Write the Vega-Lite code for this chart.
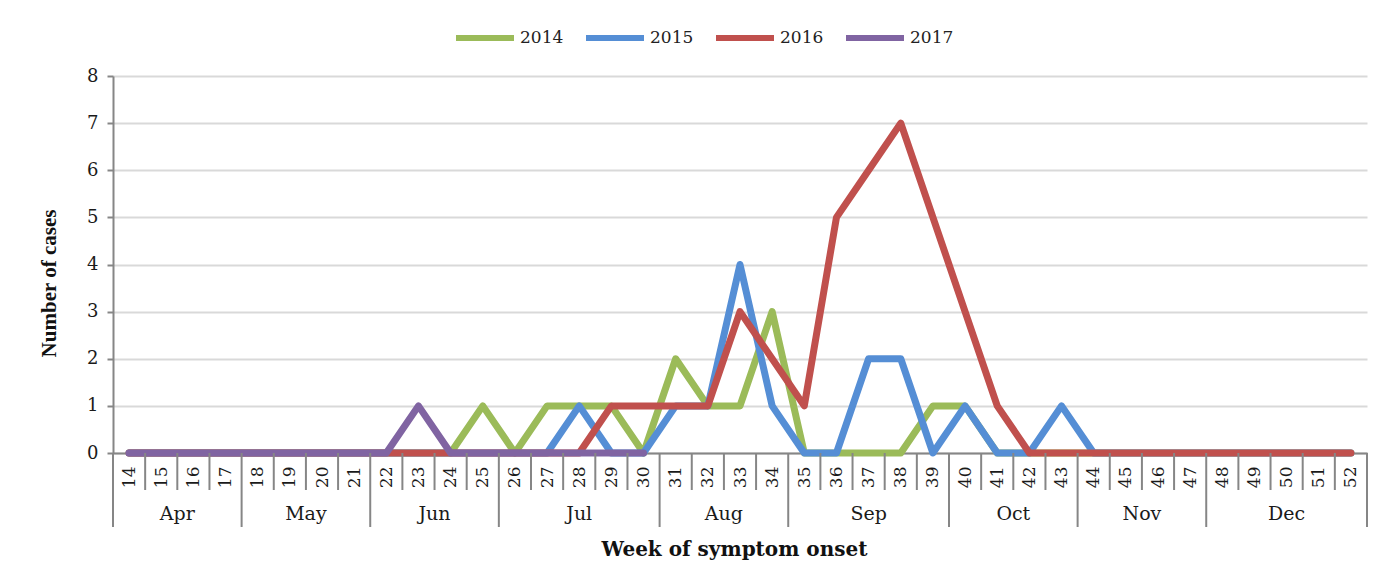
{
  "$schema": "https://vega.github.io/schema/vega-lite/v6.json",
  "width": 1254,
  "height": 377,
  "autosize": {"type": "none"},
  "padding": {"left": 113, "top": 76, "right": 31, "bottom": 122},
  "background": "white",
  "config": {
    "view": {"stroke": null},
    "font": "DejaVu Serif",
    "axisX": {
      "ticks": false,
      "grid": false,
      "labelAngle": -90,
      "labelFont": "DejaVu Serif",
      "labelFontSize": 17,
      "labelPadding": 13,
      "labelColor": "#1a1a1a",
      "labelFlush": false,
      "labelOverlap": false,
      "labelBound": false,
      "tickCount": 39,
      "domainColor": "#868686",
      "domainWidth": 2,
      "titleFont": "DejaVu Serif",
      "titleFontSize": 20,
      "titleFontWeight": "bold",
      "titleColor": "#111",
      "titlePadding": 52,
      "titleX": 621
    },
    "axisY": {
      "tickSize": 6,
      "tickColor": "#868686",
      "tickWidth": 2,
      "domainColor": "#868686",
      "domainWidth": 2,
      "gridColor": "#D9D9D9",
      "gridWidth": 2,
      "labelFont": "DejaVu Serif",
      "labelFontSize": 18,
      "labelPadding": 9,
      "labelColor": "#1a1a1a",
      "titleFont": "Liberation Serif",
      "titleFontSize": 21,
      "titleFontWeight": "bold",
      "titleColor": "#111",
      "titlePadding": 27,
      "titleY": 207
    }
  },
  "datasets": {
    "weekly": [
      {"week": 14, "2014": 0, "2015": 0, "2016": 0, "2017": 0},
      {"week": 15, "2014": 0, "2015": 0, "2016": 0, "2017": 0},
      {"week": 16, "2014": 0, "2015": 0, "2016": 0, "2017": 0},
      {"week": 17, "2014": 0, "2015": 0, "2016": 0, "2017": 0},
      {"week": 18, "2014": 0, "2015": 0, "2016": 0, "2017": 0},
      {"week": 19, "2014": 0, "2015": 0, "2016": 0, "2017": 0},
      {"week": 20, "2014": 0, "2015": 0, "2016": 0, "2017": 0},
      {"week": 21, "2014": 0, "2015": 0, "2016": 0, "2017": 0},
      {"week": 22, "2014": 0, "2015": 0, "2016": 0, "2017": 0},
      {"week": 23, "2014": 0, "2015": 0, "2016": 0, "2017": 1},
      {"week": 24, "2014": 0, "2015": 0, "2016": 0, "2017": 0},
      {"week": 25, "2014": 1, "2015": 0, "2016": 0, "2017": 0},
      {"week": 26, "2014": 0, "2015": 0, "2016": 0, "2017": 0},
      {"week": 27, "2014": 1, "2015": 0, "2016": 0, "2017": 0},
      {"week": 28, "2014": 1, "2015": 1, "2016": 0, "2017": 0},
      {"week": 29, "2014": 1, "2015": 0, "2016": 1, "2017": 0},
      {"week": 30, "2014": 0, "2015": 0, "2016": 1, "2017": 0},
      {"week": 31, "2014": 2, "2015": 1, "2016": 1},
      {"week": 32, "2014": 1, "2015": 1, "2016": 1},
      {"week": 33, "2014": 1, "2015": 4, "2016": 3},
      {"week": 34, "2014": 3, "2015": 1, "2016": 2},
      {"week": 35, "2014": 0, "2015": 0, "2016": 1},
      {"week": 36, "2014": 0, "2015": 0, "2016": 5},
      {"week": 37, "2014": 0, "2015": 2, "2016": 6},
      {"week": 38, "2014": 0, "2015": 2, "2016": 7},
      {"week": 39, "2014": 1, "2015": 0, "2016": 5},
      {"week": 40, "2014": 1, "2015": 1, "2016": 3},
      {"week": 41, "2014": 0, "2015": 0, "2016": 1},
      {"week": 42, "2014": 0, "2015": 0, "2016": 0},
      {"week": 43, "2014": 0, "2015": 1, "2016": 0},
      {"week": 44, "2014": 0, "2015": 0, "2016": 0},
      {"week": 45, "2014": 0, "2015": 0, "2016": 0},
      {"week": 46, "2014": 0, "2015": 0, "2016": 0},
      {"week": 47, "2014": 0, "2015": 0, "2016": 0},
      {"week": 48, "2014": 0, "2015": 0, "2016": 0},
      {"week": 49, "2014": 0, "2015": 0, "2016": 0},
      {"week": 50, "2014": 0, "2015": 0, "2016": 0},
      {"week": 51, "2014": 0, "2015": 0, "2016": 0},
      {"week": 52, "2014": 0, "2015": 0, "2016": 0}
    ],
    "weekBounds": [
      {"week": 13.5}, {"week": 14.5}, {"week": 15.5}, {"week": 16.5}, {"week": 17.5},
      {"week": 18.5}, {"week": 19.5}, {"week": 20.5}, {"week": 21.5}, {"week": 22.5},
      {"week": 23.5}, {"week": 24.5}, {"week": 25.5}, {"week": 26.5}, {"week": 27.5},
      {"week": 28.5}, {"week": 29.5}, {"week": 30.5}, {"week": 31.5}, {"week": 32.5},
      {"week": 33.5}, {"week": 34.5}, {"week": 35.5}, {"week": 36.5}, {"week": 37.5},
      {"week": 38.5}, {"week": 39.5}, {"week": 40.5}, {"week": 41.5}, {"week": 42.5},
      {"week": 43.5}, {"week": 44.5}, {"week": 45.5}, {"week": 46.5}, {"week": 47.5},
      {"week": 48.5}, {"week": 49.5}, {"week": 50.5}, {"week": 51.5}, {"week": 52.5}
    ],
    "monthBounds": [
      {"week": 13.5}, {"week": 17.5}, {"week": 21.5}, {"week": 25.5}, {"week": 30.5},
      {"week": 34.5}, {"week": 39.5}, {"week": 43.5}, {"week": 47.5}, {"week": 52.5}
    ],
    "monthLabels": [
      {"month": "Apr", "week": 15.5},
      {"month": "May", "week": 19.5},
      {"month": "Jun", "week": 23.5},
      {"month": "Jul", "week": 28},
      {"month": "Aug", "week": 32.5},
      {"month": "Sep", "week": 37},
      {"month": "Oct", "week": 41.5},
      {"month": "Nov", "week": 45.5},
      {"month": "Dec", "week": 50}
    ]
  },
  "layer": [
    {
      "data": {"name": "weekly"},
      "transform": [
        {"fold": ["2014", "2015", "2016", "2017"], "as": ["year", "cases"]},
        {"filter": "isValid(datum.cases)"}
      ],
      "mark": {"type": "line", "strokeWidth": 7, "strokeCap": "round", "strokeJoin": "round"},
      "encoding": {
        "x": {
          "field": "week",
          "type": "quantitative",
          "scale": {"domain": [13.5, 52.5], "nice": false, "zero": false},
          "axis": {
            "values": [14,15,16,17,18,19,20,21,22,23,24,25,26,27,28,29,30,31,32,33,34,35,36,37,38,39,40,41,42,43,44,45,46,47,48,49,50,51,52],
            "labelOverlap": false,
            "tickCount": 39,
            "title": "Week of symptom onset"
          }
        },
        "y": {
          "field": "cases",
          "type": "quantitative",
          "scale": {"domain": [0, 8], "nice": false},
          "axis": {
            "values": [0,1,2,3,4,5,6,7,8],
            "title": "Number of cases"
          }
        },
        "color": {
          "field": "year",
          "type": "nominal",
          "scale": {"domain": ["2014", "2015", "2016", "2017"], "range": ["#9BBB59", "#558ED5", "#C0504D", "#8064A2"]},
          "legend": {
            "orient": "none",
            "legendX": 340,
            "legendY": -70,
            "direction": "horizontal",
            "title": null,
            "symbolType": "stroke",
            "symbolSize": 3364,
            "symbolStrokeWidth": 6,
            "labelFont": "DejaVu Serif",
            "labelFontSize": 17,
            "labelColor": "#222",
            "labelOffset": 3,
            "columnPadding": 10
          }
        }
      }
    },
    {
      "data": {"name": "weekBounds"},
      "mark": {"type": "rule", "color": "#868686", "strokeWidth": 2},
      "encoding": {
        "x": {"field": "week", "type": "quantitative"},
        "y": {"datum": 0},
        "y2": {"datum": -0.785}
      }
    },
    {
      "data": {"name": "monthBounds"},
      "mark": {"type": "rule", "color": "#868686", "strokeWidth": 2},
      "encoding": {
        "x": {"field": "week", "type": "quantitative"},
        "y": {"datum": -0.785},
        "y2": {"datum": -1.57}
      }
    },
    {
      "data": {"name": "monthLabels"},
      "mark": {"type": "text", "font": "DejaVu Serif", "fontSize": 19, "color": "#1a1a1a", "baseline": "middle", "align": "center"},
      "encoding": {
        "x": {"field": "week", "type": "quantitative"},
        "y": {"datum": -1.3},
        "text": {"field": "month", "type": "nominal"}
      }
    }
  ]
}
